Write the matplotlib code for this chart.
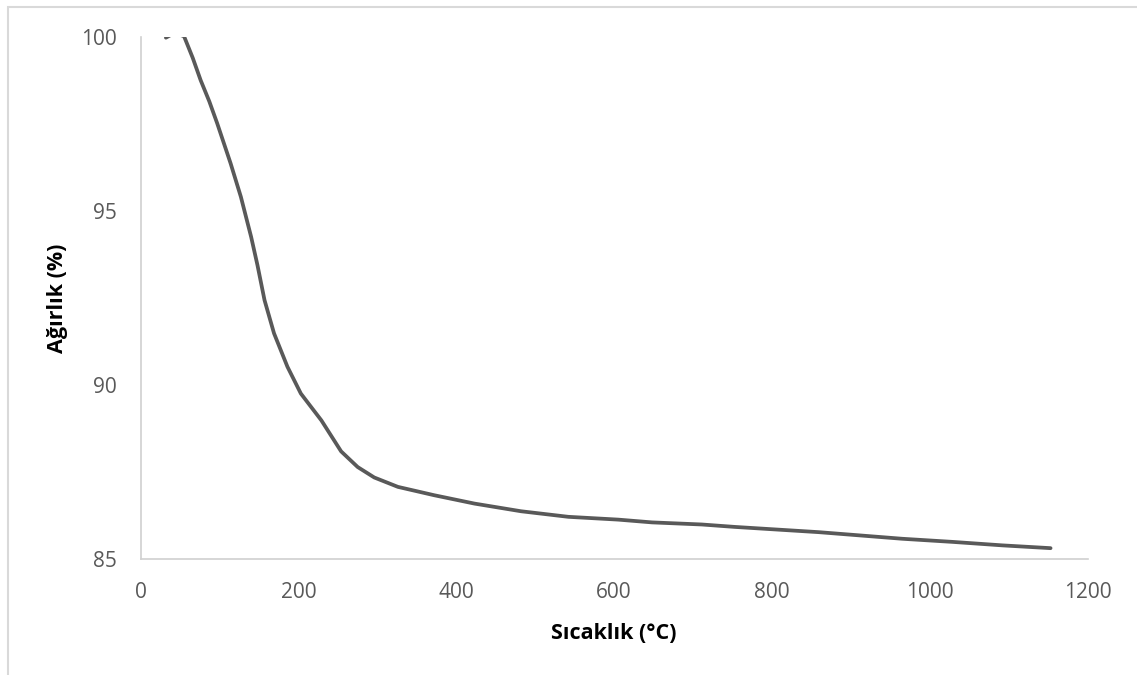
import matplotlib.pyplot as plt
from matplotlib.patches import Rectangle

# TGA verisi (okunan degerler)
sicaklik = [32, 40, 48, 55, 66, 76, 87, 97, 114, 127, 140, 148, 157, 169, 186, 203, 229,
            254, 275, 296, 326, 372, 423, 482, 542, 605, 648, 711, 753, 859, 965,
            1029, 1092, 1153]
agirlik = [99.98, 100.08, 100.08, 100.02, 99.40, 98.76, 98.15, 97.52, 96.37, 95.41, 94.26,
           93.45, 92.44, 91.49, 90.53, 89.76, 88.99, 88.10, 87.65, 87.35, 87.08, 86.84,
           86.60, 86.38, 86.22, 86.14, 86.06, 86.00, 85.93, 85.78, 85.59, 85.50, 85.40,
           85.32]

x_ticks = [0, 200, 400, 600, 800, 1000, 1200]
y_ticks = [85, 90, 95, 100]

plt.rcParams['font.family'] = ['Open Sans', 'DejaVu Sans']

fig = plt.figure(figsize=(11.37, 6.75), dpi=100)
ax = fig.add_axes([0.1237, 0.1714, 0.9566 - 0.1237, 0.9452 - 0.1714])

ax.plot(sicaklik, agirlik, color='#595959', lw=2.7, solid_capstyle='round')

ax.set_xlim(0, 1200)
ax.set_ylim(85, 100)
ax.set_xticks(x_ticks)
ax.set_yticks(y_ticks)
ax.tick_params(length=0, labelsize=15, labelcolor='#595959')
ax.tick_params(axis='x', pad=16.5)
ax.tick_params(axis='y', pad=17)

for s in ['top', 'right']:
    ax.spines[s].set_visible(False)
for s in ['left', 'bottom']:
    ax.spines[s].set_color('#d0d0d0')
    ax.spines[s].set_linewidth(1.2)

ax.set_xlabel('Sıcaklık (°C)', fontsize=15.5, fontweight='bold', labelpad=14)
ax.set_ylabel('Ağırlık (%)', fontsize=15.5, fontweight='bold', labelpad=9.5)

# dis cerceve
fig.patches.append(Rectangle((8 / 1137, -0.1), 1.2, (675 - 7) / 675 + 0.1,
                             transform=fig.transFigure, fill=False,
                             edgecolor='#d9d9d9', lw=1.5))

fig.savefig('out.png', dpi=100)
